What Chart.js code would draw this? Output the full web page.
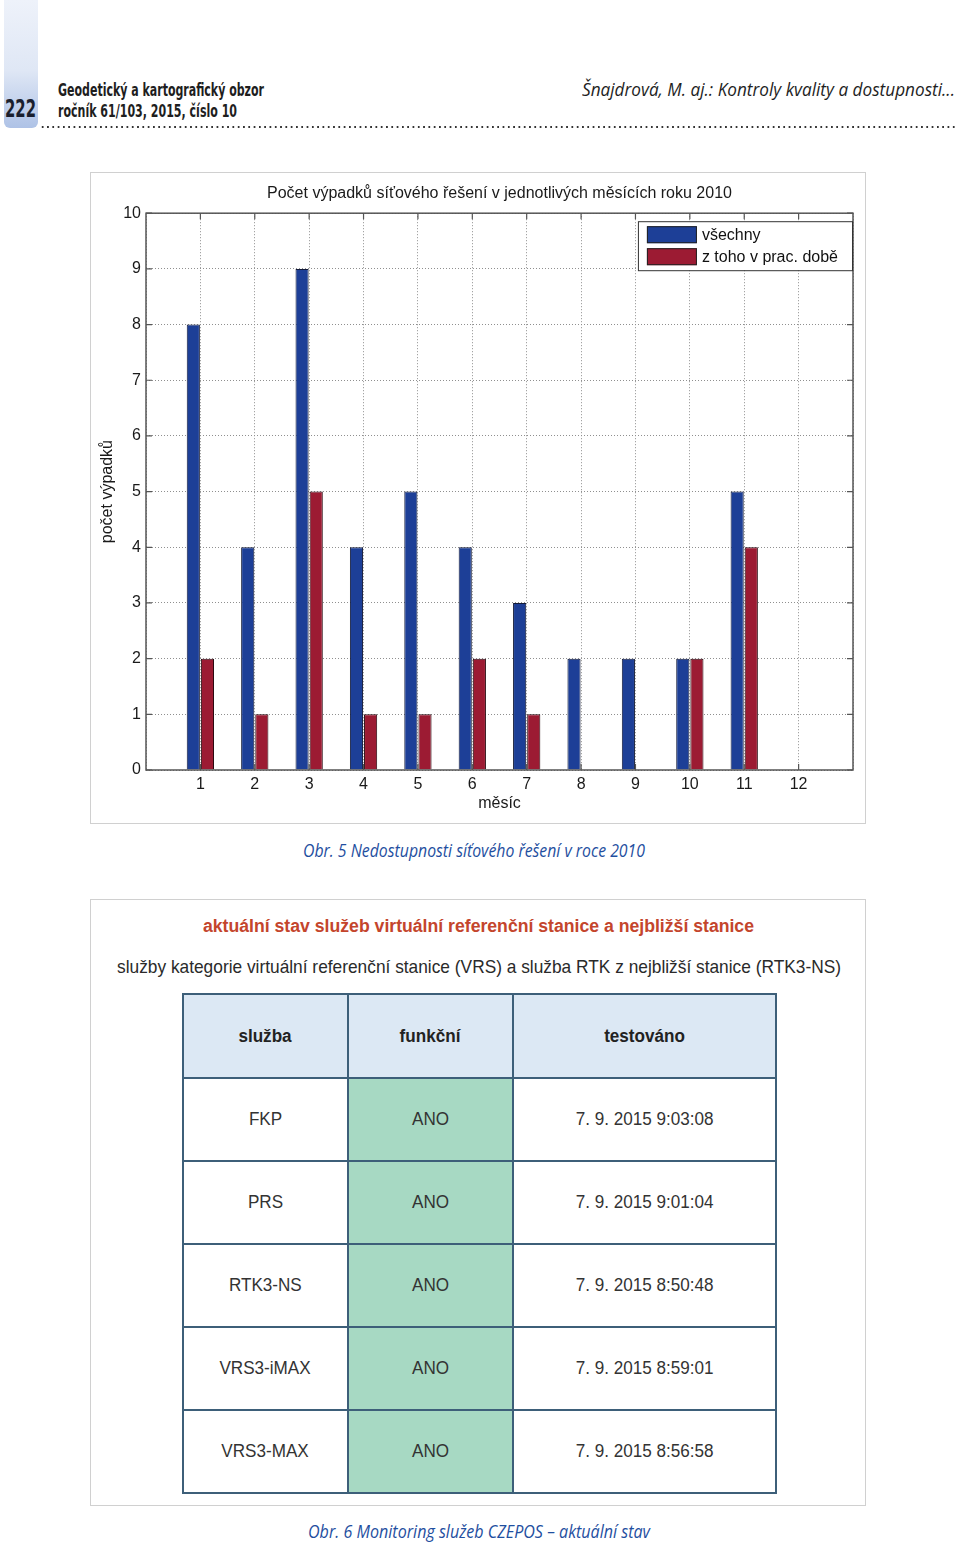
<!DOCTYPE html>
<html>
<head>
<meta charset="utf-8">
<script src="https://cdn.jsdelivr.net/npm/chart.js@4/dist/chart.umd.min.js"></script>
<style>
  html, body { margin:0; padding:0; background:#fff; }
  body { width:960px; height:1546px; position:relative; overflow:hidden; }
  .abs { position:absolute; white-space:nowrap; }
  .fit { display:inline-block; transform-origin:0 0; }
  #tab { left:4px; top:0; width:34px; height:128px; border-radius:0 0 6px 6px;
         background:linear-gradient(#eef2fa 0%, #dfe7f5 55%, #aec2e6 100%); }
  #pg { left:5px; top:96px; font:bold 25px/25px "Liberation Sans Narrow","DejaVu Sans Condensed",sans-serif; color:#1a1f2e; }
  .hdr { font:bold 18px/18px "Liberation Sans Narrow","DejaVu Sans Condensed",sans-serif; color:#1e1e1e; }
  #dots { left:40px; top:125px; width:918px; height:4px;
          background-image:radial-gradient(circle, #333 1.1px, transparent 1.4px);
          background-size:5.3px 4px; background-repeat:repeat-x; }
  .ital { font:italic 18px/18px "Open Sans",sans-serif; }
  #author { color:#1e1e1e; }
  .cap { color:#1f4fa0; }
  .frame { position:absolute; box-sizing:border-box; border:1.5px solid #d0d0d0; background:#fff; }
  #chartBox { position:absolute; left:90px; top:172px; width:776px; height:651px; }
  #t2 { font:bold 18px/18px "Liberation Sans",Arial,sans-serif; color:#c4452c; }
  #st2 { font:19px/19px "Liberation Sans",Arial,sans-serif; color:#2a2a2a; }
  table { position:absolute; left:182px; top:993px; width:593px; border-collapse:collapse; table-layout:fixed; }
  td { border:2px solid #3d5f79; text-align:center; vertical-align:middle; padding:0;
       font:18px "Liberation Sans",Arial,sans-serif; color:#333; height:81px; }
  td span { display:inline-block; transform:scaleX(0.95); }
  tr.head td { background:#dce8f4; font-weight:bold; color:#222; height:82px; }
  td.ok { background:#a7d9c3; }
</style>
</head>
<body>
<div id="tab" class="abs"></div>
<div id="pg" class="abs"><span class="fit" data-w="31">222</span></div>
<div class="abs hdr" style="left:58px;top:81px;"><span class="fit" data-w="206">Geodetický a kartografický obzor</span></div>
<div class="abs hdr" style="left:58px;top:102px;"><span class="fit" data-w="179">ročník 61/103, 2015, číslo 10</span></div>
<div class="abs ital" id="author" style="left:582px;top:80px;"><span class="fit" data-w="373">Šnajdrová, M. aj.: Kontroly kvality a dostupnosti...</span></div>
<div id="dots" class="abs"></div>

<div class="frame" style="left:90px;top:172px;width:776px;height:652px;"></div>
<div id="chartBox"><canvas id="c"></canvas></div>

<div class="abs ital cap" style="left:303px;top:841px;"><span class="fit" data-w="342">Obr. 5 Nedostupnosti síťového řešení v roce 2010</span></div>

<div class="frame" style="left:90px;top:899px;width:776px;height:607px;"></div>
<div class="abs" id="t2" style="left:203px;top:917px;"><span class="fit" data-w="551">aktuální stav služeb virtuální referenční stanice a nejbližší stanice</span></div>
<div class="abs" id="st2" style="left:117px;top:957px;"><span class="fit" data-w="724">služby kategorie virtuální referenční stanice (VRS) a služba RTK z nejbližší stanice (RTK3-NS)</span></div>
<table id="tbl">
  <colgroup><col style="width:165px"><col style="width:165px"><col style="width:263px"></colgroup>
</table>

<div class="abs ital cap" style="left:308px;top:1522px;"><span class="fit" data-w="342">Obr. 6 Monitoring služeb CZEPOS – aktuální stav</span></div>

<script>
// ---- chart data ----
const months = ['1','2','3','4','5','6','7','8','9','10','11','12'];
const allOutages  = [8, 4, 9, 4, 5, 4, 3, 2, 2, 2, 5, 0];
const workOutages = [2, 1, 5, 1, 1, 2, 1, 0, 0, 2, 4, 0];
const seriesNames = ['všechny', 'z toho v prac. době'];
const yMin = 0, yMax = 10, yStep = 1;
const chartTitle = 'Počet výpadků síťového řešení v jednotlivých měsících roku 2010';
const xTitle = 'měsíc';
const yTitle = 'počet výpadků';

// ---- table data ----
const tableHeader = ['služba', 'funkční', 'testováno'];
const services = ['FKP', 'PRS', 'RTK3-NS', 'VRS3-iMAX', 'VRS3-MAX'];
const functional = ['ANO', 'ANO', 'ANO', 'ANO', 'ANO'];
const tested = ['7. 9. 2015 9:03:08', '7. 9. 2015 9:01:04', '7. 9. 2015 8:50:48', '7. 9. 2015 8:59:01', '7. 9. 2015 8:56:58'];

// build table
const tbl = document.getElementById('tbl');
const hr = document.createElement('tr'); hr.className = 'head';
tableHeader.forEach(h => { const td = document.createElement('td'); td.innerHTML = '<span>' + h + '</span>'; hr.appendChild(td); });
tbl.appendChild(hr);
services.forEach((s, i) => {
  const tr = document.createElement('tr');
  [[s, ''], [functional[i], 'ok'], [tested[i], '']].forEach(([v, cls]) => {
    const td = document.createElement('td'); if (cls) td.className = cls;
    td.innerHTML = '<span>' + v + '</span>'; tr.appendChild(td);
  });
  tbl.appendChild(tr);
});

// fit texts to measured widths
document.querySelectorAll('.fit').forEach(el => {
  const w = el.getBoundingClientRect().width;
  const t = parseFloat(el.dataset.w);
  if (w > 0) el.style.transform = 'scaleX(' + (t / w) + ')';
});

// ---- chart ----
const FONT = '"Liberation Sans", Arial, sans-serif';
Chart.defaults.font.family = FONT;
Chart.defaults.color = '#1a1a1a';

const labels = ['', ...months, ''];
const pad = arr => [null, ...arr, null];

const framePlugin = {
  id: 'matlabFrame',
  afterDatasetsDraw(chart) {
    const {ctx, chartArea: a, scales: {x, y}} = chart;
    ctx.save();
    ctx.strokeStyle = '#555';
    ctx.lineWidth = 1.5;
    ctx.strokeRect(a.left, a.top, a.right - a.left, a.bottom - a.top);
    ctx.lineWidth = 1.2;
    ctx.beginPath();
    y.ticks.forEach(t => {
      const py = y.getPixelForValue(t.value);
      ctx.moveTo(a.left, py); ctx.lineTo(a.left + 6, py);
      ctx.moveTo(a.right, py); ctx.lineTo(a.right - 6, py);
    });
    months.forEach((m, i) => {
      const px = x.getPixelForValue(i + 1);
      ctx.moveTo(px, a.top); ctx.lineTo(px, a.top + 6);
      ctx.moveTo(px, a.bottom); ctx.lineTo(px, a.bottom - 6);
    });
    ctx.stroke();
    ctx.restore();
  }
};

const legendPlugin = {
  id: 'insideLegend',
  afterDraw(chart) {
    const {ctx, chartArea: a} = chart;
    ctx.save();
    ctx.font = '16px ' + FONT;
    const items = chart.data.datasets.map(d => ({text: d.label, color: d.backgroundColor}));
    const textW = Math.max(...items.map(i => ctx.measureText(i.text).width));
    const sw = 50, sh = 17, gap = 5, padL = 9, padR = 14, rowH = 22, padT = 5;
    const w = padL + sw + gap + textW + padR;
    const h = padT * 2 + rowH * items.length - 5;
    const bx = a.right - 1 - w, by = a.top + 8;
    ctx.fillStyle = '#fff';
    ctx.fillRect(bx, by, w, h);
    ctx.strokeStyle = '#333';
    ctx.lineWidth = 1;
    ctx.strokeRect(bx + 0.5, by + 0.5, w, h);
    items.forEach((it, i) => {
      const sy = by + padT + i * rowH;
      ctx.fillStyle = it.color;
      ctx.fillRect(bx + padL, sy, sw, sh);
      ctx.strokeStyle = '#222';
      ctx.strokeRect(bx + padL + 0.5, sy + 0.5, sw - 1, sh - 1);
      ctx.fillStyle = '#111';
      ctx.textBaseline = 'middle';
      ctx.fillText(it.text, bx + padL + sw + gap, sy + sh / 2 + 1);
    });
    ctx.restore();
  }
};

new Chart(document.getElementById('c'), {
  type: 'bar',
  data: {
    labels: labels,
    datasets: [
      { label: seriesNames[0], data: pad(allOutages), backgroundColor: '#1d3f97', borderColor: '#141c3a', borderWidth: 1 },
      { label: seriesNames[1], data: pad(workOutages), backgroundColor: '#9c1b33', borderColor: '#2a0a10', borderWidth: 1 }
    ]
  },
  options: {
    responsive: true,
    maintainAspectRatio: false,
    animation: false,
    categoryPercentage: 0.52,
    barPercentage: 0.93,
    layout: { padding: { left: 0, right: 13, top: 0, bottom: 0 } },
    plugins: {
      legend: { display: false },
      tooltip: { enabled: false },
      title: {
        display: true, text: chartTitle, fullSize: false, color: '#1a1a1a',
        font: { size: 16, weight: 'normal' }, padding: { top: 12, bottom: 10 }
      }
    },
    scales: {
      x: {
        type: 'category', offset: false,
        grid: { offset: false, color: '#8f8f8f', lineWidth: 1, drawTicks: false },
        border: { display: false, dash: [1, 2] },
        ticks: { font: { size: 16 }, color: '#1a1a1a', padding: 5, autoSkip: false, maxRotation: 0 },
        title: { display: true, text: xTitle, font: { size: 16 }, color: '#1a1a1a', padding: { top: 0, bottom: 10 } },
        afterFit(s) { s.height = 53; }
      },
      y: {
        min: yMin, max: yMax,
        grid: { color: '#8f8f8f', lineWidth: 1, drawTicks: false },
        border: { display: false, dash: [1, 2] },
        ticks: { stepSize: yStep, font: { size: 16 }, color: '#1a1a1a', padding: 5 },
        title: { display: true, text: yTitle, font: { size: 16 }, color: '#1a1a1a', padding: { top: 8, bottom: 0 } },
        afterFit(s) { s.width = 56; }
      }
    }
  },
  plugins: [framePlugin, legendPlugin]
});
</script>
</body>
</html>
